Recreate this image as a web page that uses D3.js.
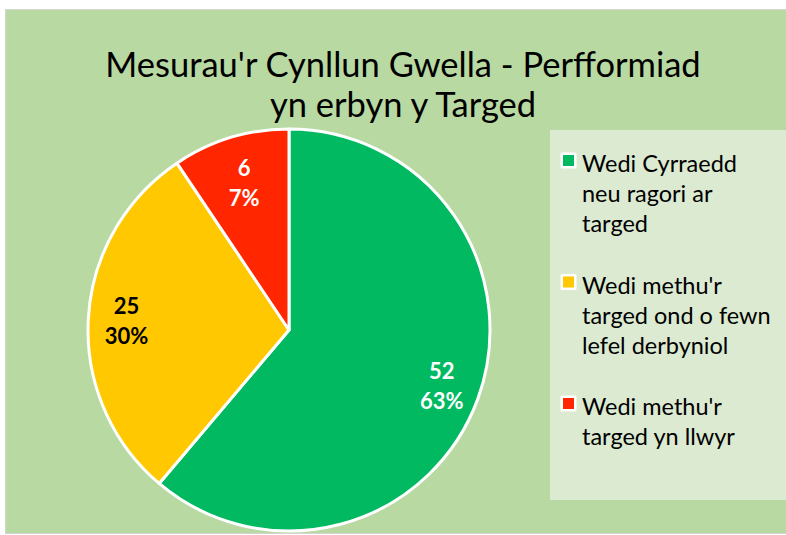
<!DOCTYPE html>
<html><head><meta charset="utf-8">
<script src="https://cdn.jsdelivr.net/npm/d3@7"></script>
<style>html,body{margin:0;padding:0;background:#fff;}svg{display:block;}</style>
</head><body>
<svg id="c" width="786" height="535"></svg>
<script>
// Data
const categories = ["Wedi Cyrraedd neu ragori ar targed", "Wedi methu'r targed ond o fewn lefel derbyniol", "Wedi methu'r targed yn llwyr"];
const sliceValues = [52, 25, 8];           // slice sizes as drawn
const countLabels = ["52", "25", "6"];     // printed data labels
const pctLabels = ["63%", "30%", "7%"];
const legendLines = [["Wedi Cyrraedd", "neu ragori ar", "targed"], ["Wedi methu'r", "targed ond o fewn", "lefel derbyniol"], ["Wedi methu'r", "targed yn llwyr"]];
const colors = ["#00b961", "#ffc800", "#ff2600"];
const labelColors = ["#ffffff", "#000000", "#ffffff"];
const titleLines = ["Mesurau'r Cynllun Gwella - Perfformiad", "yn erbyn y Targed"];

const svg = d3.select("#c");
const FONT = "Lato, 'Open Sans', sans-serif";

svg.append("rect").attr("x", 5.5).attr("y", 9.5).attr("width", 785).attr("height", 524)
  .attr("fill", "#b8d9a2").attr("stroke", "#d4d4d4");

// Title
svg.append("g").selectAll("text").data(titleLines).join("text")
  .attr("x", 403).attr("y", (d, i) => 77 + i * 40)
  .attr("text-anchor", "middle").attr("font-family", FONT).attr("font-size", 34.5)
  .attr("fill", "#000").text(d => d);

// Pie
const cx = 289, cy = 330, R = 201;
const pie = d3.pie().sort(null).value(d => d)(sliceValues);
const arc = d3.arc().innerRadius(0).outerRadius(R);
const g = svg.append("g").attr("transform", `translate(${cx},${cy})`);
g.selectAll("path").data(pie).join("path")
  .attr("d", arc).attr("fill", (d, i) => colors[i])
  .attr("stroke", "#fff").attr("stroke-width", 3).attr("stroke-linejoin", "round");

// best-fit style: narrow slices get their label a little further in
const labelR = d => (d.endAngle - d.startAngle) < 0.8 ? R * 0.765 : R * 0.81;
const lab = g.selectAll("g.lab").data(pie).join("g").attr("class", "lab")
  .attr("transform", d => { const c = d3.arc().innerRadius(labelR(d)).outerRadius(labelR(d)).centroid(d); return `translate(${c[0]},${c[1]})`; });
lab.append("text").attr("y", -7).attr("text-anchor", "middle")
  .attr("font-family", FONT).attr("font-weight", "bold").attr("font-size", 22)
  .attr("fill", (d, i) => labelColors[i]).text((d, i) => countLabels[i]);
lab.append("text").attr("y", 23).attr("text-anchor", "middle")
  .attr("font-family", FONT).attr("font-weight", "bold").attr("font-size", 22)
  .attr("fill", (d, i) => labelColors[i]).text((d, i) => pctLabels[i]);

// Legend
svg.append("rect").attr("x", 550).attr("y", 130).attr("width", 240).attr("height", 370).attr("fill", "#dbead0");
const leg = svg.append("g").selectAll("g").data(categories).join("g")
  .attr("transform", (d, i) => `translate(560, ${172 + i * 121.5})`);
leg.append("rect").attr("x", 0.5).attr("y", -19.5).attr("width", 16).attr("height", 16).attr("fill", "#fff").attr("rx", 1.5);
leg.append("rect").attr("x", 3).attr("y", -17).attr("width", 11).attr("height", 11).attr("fill", (d, i) => colors[i]);
leg.each(function(d, i) {
  d3.select(this).selectAll("text").data(legendLines[i]).join("text")
    .attr("x", 22).attr("y", (t, j) => j * 30)
    .attr("font-family", FONT).attr("font-size", 23.5).attr("fill", "#000").text(t => t);
});
</script>
</body></html>
